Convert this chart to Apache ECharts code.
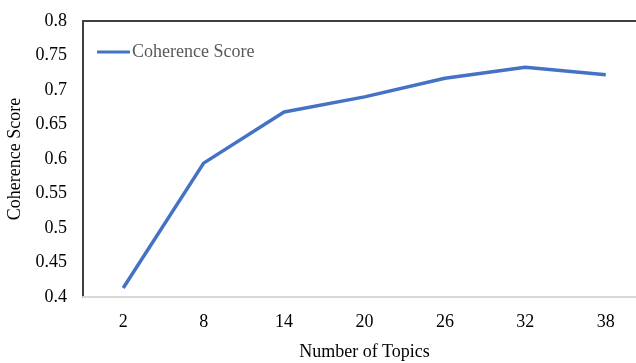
<!DOCTYPE html>
<html>
<head>
<meta charset="utf-8">
<script src="https://cdn.jsdelivr.net/npm/echarts@6/dist/echarts.min.js"></script>
<style>
html,body{margin:0;padding:0;background:#fff;}
#c{width:636px;height:363px;}
</style>
</head>
<body>
<div id="c"></div>
<script>
const categories = ['2','8','14','20','26','32','38'];
const coherence = [0.413, 0.594, 0.668, 0.690, 0.717, 0.733, 0.722];
const seriesName = 'Coherence Score';
const font = '"Liberation Serif", "Times New Roman", serif';

const chart = echarts.init(document.getElementById('c'), null, {renderer: 'canvas'});
chart.setOption({
  animation: false,
  backgroundColor: '#fff',
  grid: {left: 83, top: 21, width: 563, height: 276, outerBoundsMode: 'none', containLabel: false},
  legend: {
    data: [seriesName],
    left: 97, top: 43, padding: 0,
    itemWidth: 33, itemHeight: 14, itemGap: 0,
    icon: 'path://M0,5.5 L33,5.5 L33,8.5 L0,8.5 Z',
    textStyle: {fontFamily: font, fontSize: 18, color: '#595959', padding: [0,0,0,-3]}
  },
  xAxis: [{
    type: 'category',
    data: categories,
    boundaryGap: true,
    name: 'Number of Topics',
    nameLocation: 'middle',
    nameGap: 46,
    nameTextStyle: {fontFamily: font, fontSize: 18, color: '#000'},
    axisLine: {show: true, lineStyle: {color: '#d9d9d9', width: 2}},
    axisTick: {show: false},
    axisLabel: {fontFamily: font, fontSize: 18, color: '#000', margin: 16}
  }, {
    type: 'value',
    position: 'top',
    min: 0, max: 1,
    axisLine: {show: true, onZero: false, lineStyle: {color: '#404040', width: 2}},
    axisTick: {show: false},
    axisLabel: {show: false},
    splitLine: {show: false}
  }],
  yAxis: {
    type: 'value',
    min: 0.4, max: 0.8, interval: 0.05,
    name: 'Coherence Score',
    nameLocation: 'middle',
    nameGap: 56,
    nameTextStyle: {fontFamily: font, fontSize: 18, color: '#000'},
    axisLine: {show: true, lineStyle: {color: '#404040', width: 2}},
    axisTick: {show: false},
    splitLine: {show: false},
    axisLabel: {fontFamily: font, fontSize: 18, color: '#000', margin: 16,
      formatter: v => String(parseFloat(v.toFixed(2)))}
  },
  series: [{
    name: seriesName,
    type: 'line',
    data: coherence,
    xAxisIndex: 0,
    symbol: 'none',
    lineStyle: {color: '#4472C4', width: 3.5},
    itemStyle: {color: '#4472C4'}
  }]
});
</script>
</body>
</html>
